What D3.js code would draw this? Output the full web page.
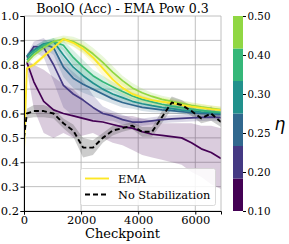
<!DOCTYPE html>
<html>
<head>
<meta charset="utf-8">
<script src="https://cdn.jsdelivr.net/npm/d3@7"></script>
<style>
  html, body { margin: 0; padding: 0; background: #fff; }
  svg { display: block; font-family: "DejaVu Serif", serif; }
</style>
</head>
<body>
<svg id="chart" width="289" height="244"></svg>
<script>
// --- DATA ---
const checkpoints = [0, 100, 345, 690, 1035, 1380, 1725, 2070, 2415, 2760, 3105, 3450, 3795, 4140, 4485, 4830, 5175, 5520, 5865, 6210, 6555, 6900];

// eta sweep lines (start at checkpoint 100)
const eta010 = [null, 0.81, 0.73, 0.65, 0.615, 0.60, 0.59, 0.58, 0.57, 0.565, 0.555, 0.545, 0.54, 0.525, 0.515, 0.51, 0.505, 0.50, 0.48, 0.455, 0.44, 0.415];
const eta010Lo = [null, 0.78, 0.62, 0.52, 0.50, 0.52, 0.50, 0.51, 0.52, 0.50, 0.48, 0.47, 0.45, 0.43, 0.42, 0.41, 0.40, 0.39, 0.36, 0.34, 0.31, 0.29];
const eta010Hi = [null, 0.82, 0.80, 0.78, 0.75, 0.72, 0.70, 0.66, 0.62, 0.61, 0.60, 0.59, 0.59, 0.58, 0.57, 0.56, 0.56, 0.56, 0.56, 0.55, 0.55, 0.54];
const eta020 = [null, 0.83, 0.875, 0.87, 0.80, 0.715, 0.68, 0.655, 0.625, 0.60, 0.59, 0.575, 0.565, 0.565, 0.57, 0.575, 0.578, 0.58, 0.582, 0.584, 0.585, 0.583];
const eta020Sd = [null, 0.01, 0.02, 0.04, 0.07, 0.09, 0.09, 0.08, 0.05, 0.03, 0.02, 0.02, 0.015, 0.015, 0.015, 0.015, 0.015, 0.015, 0.015, 0.015, 0.015, 0.015];
const eta025 = [null, 0.835, 0.86, 0.885, 0.87, 0.79, 0.745, 0.72, 0.70, 0.68, 0.66, 0.645, 0.635, 0.625, 0.62, 0.615, 0.612, 0.608, 0.603, 0.60, 0.598, 0.595];
const eta025Sd = [null, 0.01, 0.015, 0.015, 0.03, 0.04, 0.04, 0.035, 0.03, 0.025, 0.02, 0.02, 0.015, 0.015, 0.015, 0.012, 0.012, 0.012, 0.012, 0.012, 0.012, 0.012];
const eta030 = [null, 0.835, 0.86, 0.885, 0.895, 0.84, 0.79, 0.755, 0.725, 0.70, 0.68, 0.665, 0.65, 0.64, 0.632, 0.625, 0.62, 0.614, 0.61, 0.606, 0.603, 0.60];
const eta030Sd = [null, 0.01, 0.015, 0.015, 0.015, 0.03, 0.035, 0.03, 0.03, 0.025, 0.02, 0.02, 0.015, 0.015, 0.012, 0.012, 0.012, 0.012, 0.012, 0.012, 0.012, 0.012];
const eta040 = [null, 0.82, 0.85, 0.88, 0.895, 0.88, 0.83, 0.79, 0.755, 0.73, 0.71, 0.69, 0.672, 0.658, 0.648, 0.638, 0.63, 0.624, 0.618, 0.613, 0.608, 0.605];
const eta040Sd = [null, 0.01, 0.015, 0.015, 0.015, 0.02, 0.03, 0.03, 0.025, 0.025, 0.02, 0.02, 0.015, 0.015, 0.012, 0.012, 0.012, 0.012, 0.012, 0.012, 0.012, 0.012];
const eta050 = [null, 0.81, 0.84, 0.87, 0.895, 0.905, 0.895, 0.875, 0.845, 0.81, 0.77, 0.735, 0.705, 0.685, 0.67, 0.658, 0.65, 0.642, 0.634, 0.627, 0.621, 0.616];
const eta050Sd = [null, 0.01, 0.015, 0.015, 0.015, 0.015, 0.02, 0.025, 0.025, 0.025, 0.025, 0.02, 0.02, 0.018, 0.015, 0.015, 0.015, 0.012, 0.012, 0.012, 0.012, 0.012];

const emaValues = [0.45, 0.785, 0.80, 0.835, 0.87, 0.905, 0.89, 0.865, 0.83, 0.785, 0.74, 0.705, 0.68, 0.665, 0.655, 0.648, 0.643, 0.635, 0.628, 0.623, 0.618, 0.614];
const emaSd = [0.0, 0.01, 0.01, 0.01, 0.01, 0.01, 0.015, 0.02, 0.025, 0.03, 0.03, 0.025, 0.025, 0.02, 0.02, 0.018, 0.015, 0.015, 0.015, 0.015, 0.015, 0.015];

const noStabValues = [0.50, 0.60, 0.61, 0.61, 0.60, 0.56, 0.53, 0.46, 0.46, 0.50, 0.53, 0.54, 0.55, 0.525, 0.525, 0.585, 0.645, 0.635, 0.61, 0.58, 0.60, 0.565];
const noStabSd = [0.005, 0.02, 0.025, 0.025, 0.02, 0.02, 0.025, 0.04, 0.03, 0.02, 0.02, 0.015, 0.015, 0.02, 0.02, 0.025, 0.025, 0.02, 0.02, 0.02, 0.03, 0.02];

const cbarLabels = ['0.10', '0.20', '0.25', '0.30', '0.40', '0.50'];
const yTicks = [0.2, 0.3, 0.4, 0.5, 0.6, 0.7, 0.8, 0.9, 1.0];
const xTicks = [0, 2000, 4000, 6000];

// --- SETUP ---
const svg = d3.select('#chart');
const plotL = 24, plotR = 221, plotT = 16, plotB = 211;

const x = d3.scaleLinear().domain([0, 6900]).range([plotL, plotR]);
const y = d3.scaleLinear().domain([0.2, 1.0]).range([plotB, plotT]);

const etaColors = [0, 1, 2, 3, 4, 5].map(i => d3.interpolateViridis(i / 6));
const emaColor = '#fde725';

// --- GRID ---
const grid = svg.append('g');
grid.selectAll('line.gy').data(yTicks).enter().append('line')
    .attr('x1', plotL).attr('x2', plotR)
    .attr('y1', d => y(d)).attr('y2', d => y(d))
    .attr('stroke', '#b0b0b0').attr('stroke-width', 0.8);
grid.selectAll('line.gx').data(xTicks).enter().append('line')
    .attr('y1', plotT).attr('y2', plotB)
    .attr('x1', d => x(d)).attr('x2', d => x(d))
    .attr('stroke', '#b0b0b0').attr('stroke-width', 0.8);

// clip
svg.append('clipPath').attr('id', 'clip')
    .append('rect').attr('x', plotL).attr('y', plotT).attr('width', plotR - plotL).attr('height', plotB - plotT);
const plot = svg.append('g').attr('clip-path', 'url(#clip)');

const line = d3.line()
    .defined(d => d[1] != null)
    .x(d => x(d[0])).y(d => y(d[1]));
const area = d3.area()
    .defined(d => d[1] != null)
    .x(d => x(d[0])).y0(d => y(d[1])).y1(d => y(d[2]));

function drawBand(lo, hi, color, opacity) {
    const pts = checkpoints.map((c, i) => [c, lo[i], hi[i]]);
    plot.append('path').datum(pts)
        .attr('d', area)
        .attr('fill', color).attr('fill-opacity', opacity).attr('stroke', 'none');
}
function drawLine(vals, color, width, dash) {
    const pts = checkpoints.map((c, i) => [c, vals[i]]);
    const p = plot.append('path').datum(pts)
        .attr('d', line)
        .attr('fill', 'none').attr('stroke', color)
        .attr('stroke-width', width).attr('stroke-linejoin', 'round');
    if (dash) p.attr('stroke-dasharray', dash);
}
const plusMinus = (vals, sd, s) => vals.map((v, i) => v == null ? null : v + s * sd[i]);

// --- BANDS ---
drawBand(eta010Lo, eta010Hi, etaColors[0], 0.2);
const sweep = [
    [eta020, eta020Sd], [eta025, eta025Sd], [eta030, eta030Sd],
    [eta040, eta040Sd], [eta050, eta050Sd]
];
sweep.forEach(([vals, sd], i) => {
    drawBand(plusMinus(vals, sd, -1), plusMinus(vals, sd, 1), etaColors[i + 1], 0.2);
});
drawBand(plusMinus(emaValues, emaSd, -1), plusMinus(emaValues, emaSd, 1), emaColor, 0.2);
drawBand(plusMinus(noStabValues, noStabSd, -1), plusMinus(noStabValues, noStabSd, 1), '#555', 0.3);

// --- LINES ---
drawLine(eta010, etaColors[0], 1.7);
sweep.forEach(([vals], i) => drawLine(vals, etaColors[i + 1], 1.7));
drawLine(emaValues, emaColor, 1.9);
drawLine(noStabValues, '#000', 1.9, '5,3');

// --- AXES ---
const yAxis = svg.append('g').attr('transform', `translate(${plotL},0)`)
    .call(d3.axisLeft(y).tickValues(yTicks).tickFormat(d3.format('.1f')).tickSize(3.5).tickPadding(1.5));
const xAxis = svg.append('g').attr('transform', `translate(0,${plotB})`)
    .call(d3.axisBottom(x).tickValues(xTicks).tickFormat(d3.format('d')).tickSize(3.5).tickPadding(1.5));
[yAxis, xAxis].forEach(a => {
    a.selectAll('text').attr('font-family', 'DejaVu Serif').attr('font-size', 11.5).attr('fill', '#000');
    a.select('.domain').attr('stroke', '#000').attr('stroke-width', 1);
    a.selectAll('.tick line').attr('stroke', '#000');
});
// right spine (light)
svg.append('line').attr('x1', plotR).attr('x2', plotR).attr('y1', plotT).attr('y2', plotB)
    .attr('stroke', '#b0b0b0').attr('stroke-width', 0.8);

svg.append('text').attr('x', (plotL + plotR) / 2).attr('y', 238)
    .attr('text-anchor', 'middle').attr('font-size', 13).text('Checkpoint');
svg.append('text').attr('x', (plotL + plotR) / 2).attr('y', 13)
    .attr('text-anchor', 'middle').attr('font-size', 12.5).text('BoolQ (Acc) - EMA Pow 0.3');

// --- LEGEND ---
const legend = svg.append('g');
legend.append('rect').attr('x', 80.5).attr('y', 168.5).attr('width', 135).attr('height', 37)
    .attr('rx', 2).attr('fill', '#fff').attr('fill-opacity', 0.85)
    .attr('stroke', '#d0d0d0').attr('stroke-width', 0.8);
const legendItems = [
    { label: 'EMA', color: emaColor, dash: null },
    { label: 'No Stabilization', color: '#000', dash: '5,3' }
];
legendItems.forEach((d, i) => {
    const ly = 178.5 + i * 16;
    const l = legend.append('line').attr('x1', 85).attr('x2', 109).attr('y1', ly).attr('y2', ly)
        .attr('stroke', d.color).attr('stroke-width', 1.9);
    if (d.dash) l.attr('stroke-dasharray', d.dash);
    legend.append('text').attr('x', 118).attr('y', ly + 4).attr('font-size', 11.3).text(d.label);
});

// --- COLORBAR ---
const cbX = 233, cbW = 10;
const cbY = d3.scaleLinear().domain([0, 6]).range([plotB, plotT]);
svg.append('g').selectAll('rect').data(etaColors).enter().append('rect')
    .attr('x', cbX).attr('width', cbW)
    .attr('y', (d, i) => cbY(i + 1)).attr('height', (d, i) => cbY(i) - cbY(i + 1))
    .attr('fill', d => d);
const cbTicks = d3.scalePoint().domain(cbarLabels).range([plotB, plotT]);
const cbAxis = svg.append('g').attr('transform', `translate(${cbX + cbW},0)`)
    .call(d3.axisRight(cbTicks).tickSize(3).tickPadding(1.5));
cbAxis.select('.domain').remove();
cbAxis.selectAll('text').attr('font-family', 'DejaVu Serif').attr('font-size', 10.3).attr('fill', '#000');
cbAxis.selectAll('.tick line').attr('stroke', '#000');
svg.append('text').attr('x', 280).attr('y', 130).attr('text-anchor', 'middle')
    .attr('font-family', 'DejaVu Sans').attr('font-style', 'italic').attr('font-size', 17).text('η');
</script>
</body>
</html>
